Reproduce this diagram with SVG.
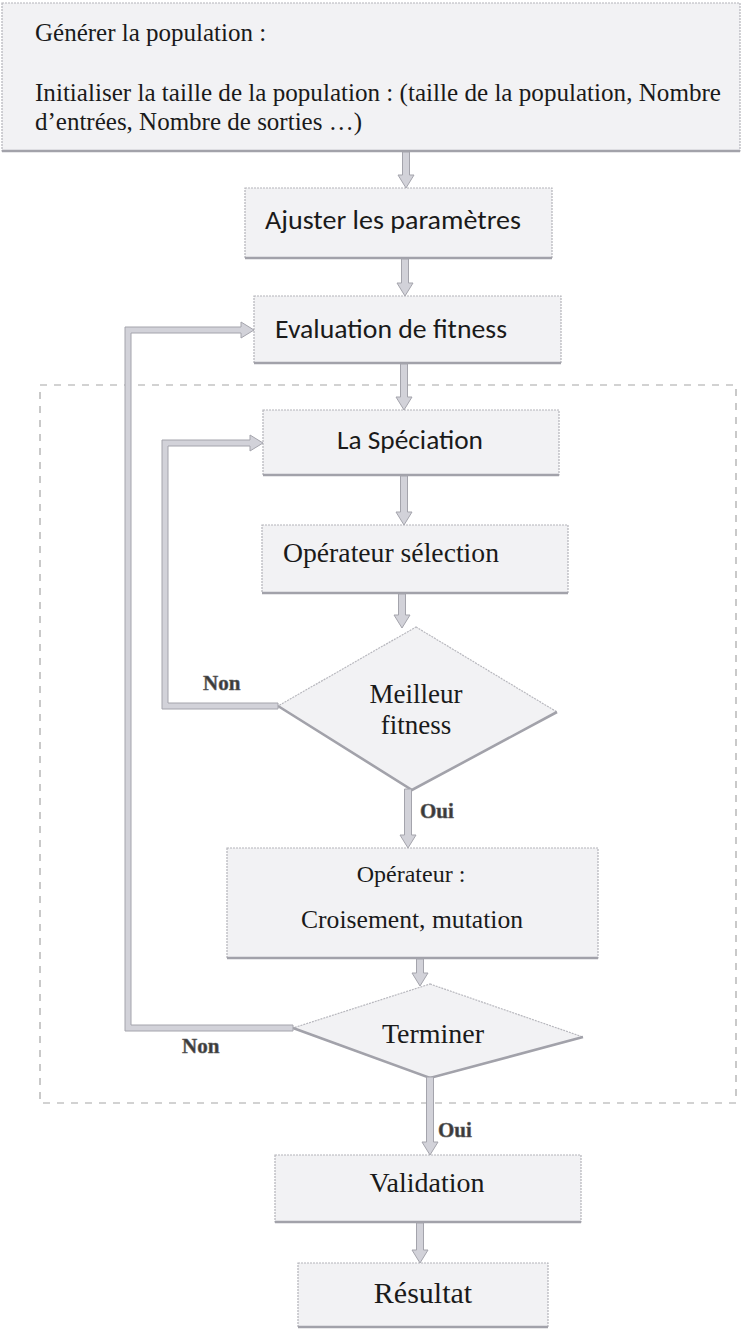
<svg xmlns="http://www.w3.org/2000/svg" width="742" height="1329" viewBox="0 0 742 1329">
  <style>
    .box { fill: #f2f2f4; stroke: #b4b4ba; stroke-width: 1.2; stroke-dasharray: 2 1; }
    .shadow { stroke: #a2a2aa; stroke-width: 2.6; fill: none; }
    .diamond { fill: #f2f2f4; stroke: #b8b8be; stroke-width: 1.2; stroke-dasharray: 2 1; }
    .frame { fill: none; stroke: #a6a6a6; stroke-width: 1.2; stroke-dasharray: 7 7; }
    .arrow { fill: #d2d2d9; stroke: #a4a4ac; stroke-width: 1; }
    .serif { font-family: "Liberation Serif", "Times New Roman", serif; fill: #1a1a1a; }
    .sans { font-family: Carlito, Lato, "Liberation Sans", sans-serif; fill: #1a1a1a; }
    .lbl { font-family: "Liberation Serif", "Times New Roman", serif; font-weight: bold; font-size: 21px; fill: #3a3a3a; stroke: #666; stroke-width: 0.5; }
  </style>

  <!-- dashed frame around the evolution loop -->
  <rect class="frame" x="40" y="385" width="696" height="718"/>

  <g id="generer">
    <rect class="box" x="2" y="3" width="738" height="148"/>
    <line class="shadow" x1="2" y1="151" x2="740" y2="151"/>
    <text class="serif" x="35" y="41" font-size="25">Générer la population :</text>
    <text class="serif" x="35" y="101" font-size="25" textLength="686" lengthAdjust="spacingAndGlyphs">Initialiser la taille de la population : (taille de la population, Nombre</text>
    <text class="serif" x="35" y="130" font-size="25">d’entrées, Nombre de sorties …)</text>
  </g>

  <g id="ajuster">
    <rect class="box" x="245" y="188" width="307" height="70"/>
    <line class="shadow" x1="245" y1="258" x2="552" y2="258"/>
    <text class="sans" x="265" y="229" font-size="27" textLength="256" lengthAdjust="spacingAndGlyphs">Ajuster les paramètres</text>
  </g>

  <g id="evaluation">
    <rect class="box" x="254" y="296" width="307" height="67"/>
    <line class="shadow" x1="254" y1="363" x2="561" y2="363"/>
    <text class="sans" x="275" y="338" font-size="27" textLength="232" lengthAdjust="spacingAndGlyphs">Evaluation de fitness</text>
  </g>

  <g id="speciation">
    <rect class="box" x="263" y="410" width="296" height="65"/>
    <line class="shadow" x1="263" y1="475" x2="559" y2="475"/>
    <text class="sans" x="337" y="449" font-size="27" textLength="146" lengthAdjust="spacingAndGlyphs">La Spéciation</text>
  </g>

  <g id="selection">
    <rect class="box" x="262" y="525" width="306" height="68"/>
    <line class="shadow" x1="262" y1="593" x2="568" y2="593"/>
    <text class="serif" x="283" y="562" font-size="27" textLength="216" lengthAdjust="spacingAndGlyphs">Opérateur sélection</text>
  </g>

  <g id="meilleur">
    <polygon class="diamond" points="416,627 557,712 412,790 278,706"/>
    <polyline class="shadow" points="278,706 412,790 557,712"/>
    <text class="serif" x="416" y="703" font-size="27" text-anchor="middle">Meilleur</text>
    <text class="serif" x="416" y="734" font-size="27" text-anchor="middle">fitness</text>
  </g>

  <g id="croisement">
    <rect class="box" x="227" y="848" width="371" height="110"/>
    <line class="shadow" x1="227" y1="958" x2="598" y2="958"/>
    <text class="serif" x="411" y="882" font-size="24" text-anchor="middle">Opérateur :</text>
    <text class="serif" x="412" y="928" font-size="25" text-anchor="middle" textLength="222" lengthAdjust="spacingAndGlyphs">Croisement, mutation</text>
  </g>

  <g id="terminer">
    <polygon class="diamond" points="430,984 583,1037 430,1078 293,1028"/>
    <polyline class="shadow" points="293,1028 430,1078 583,1037"/>
    <text class="serif" x="433" y="1043" font-size="28" text-anchor="middle">Terminer</text>
  </g>

  <g id="validation">
    <rect class="box" x="275" y="1155" width="306" height="67"/>
    <line class="shadow" x1="275" y1="1222" x2="581" y2="1222"/>
    <text class="serif" x="427" y="1192" font-size="28" text-anchor="middle">Validation</text>
  </g>

  <g id="resultat">
    <rect class="box" x="298" y="1263" width="250" height="64"/>
    <line class="shadow" x1="298" y1="1327" x2="548" y2="1327"/>
    <text class="serif" x="423" y="1303" font-size="30" text-anchor="middle">Résultat</text>
  </g>

  <g id="connectors">
    <!-- straight block arrows -->
    <path class="arrow" d="M402.5,152 H409.5 V175 H414 L406,188 L398,175 H402.5 Z"/>
    <path class="arrow" d="M401.5,259 H408.5 V283 H413 L405,296 L397,283 H401.5 Z"/>
    <path class="arrow" d="M400.5,364 H407.5 V397 H412 L404,410 L396,397 H400.5 Z"/>
    <path class="arrow" d="M400.5,476 H407.5 V512 H412 L404,525 L396,512 H400.5 Z"/>
    <path class="arrow" d="M398.5,594 H405.5 V615 H410 L402,628 L394,615 H398.5 Z"/>
    <path class="arrow" d="M404.5,789 H411.5 V835 H416 L408,848 L400,835 H404.5 Z"/>
    <path class="arrow" d="M416.5,959 H423.5 V973 H428 L420,986 L412,973 H416.5 Z"/>
    <path class="arrow" d="M426.5,1077 H433.5 V1142 H438 L430,1155 L422,1142 H426.5 Z"/>
    <path class="arrow" d="M416.5,1223 H423.5 V1250 H428 L420,1263 L412,1250 H416.5 Z"/>
    <!-- "Non" loop back to La Spéciation -->
    <path class="arrow" d="M278,703 L168,703 L168,446 L250,446 L250,451 L263,443 L250,435 L250,440 L162,440 L162,709 L278,709 Z"/>
    <!-- "Non" loop back to Evaluation de fitness -->
    <path class="arrow" d="M293,1025 L131,1025 L131,333 L241,333 L241,338 L254,330 L241,322 L241,327 L125,327 L125,1031 L293,1031 Z"/>
    <!-- branch labels -->
    <text class="lbl" x="203" y="690">Non</text>
    <text class="lbl" x="420" y="818">Oui</text>
    <text class="lbl" x="182" y="1053">Non</text>
    <text class="lbl" x="438" y="1137">Oui</text>
  </g>
</svg>
